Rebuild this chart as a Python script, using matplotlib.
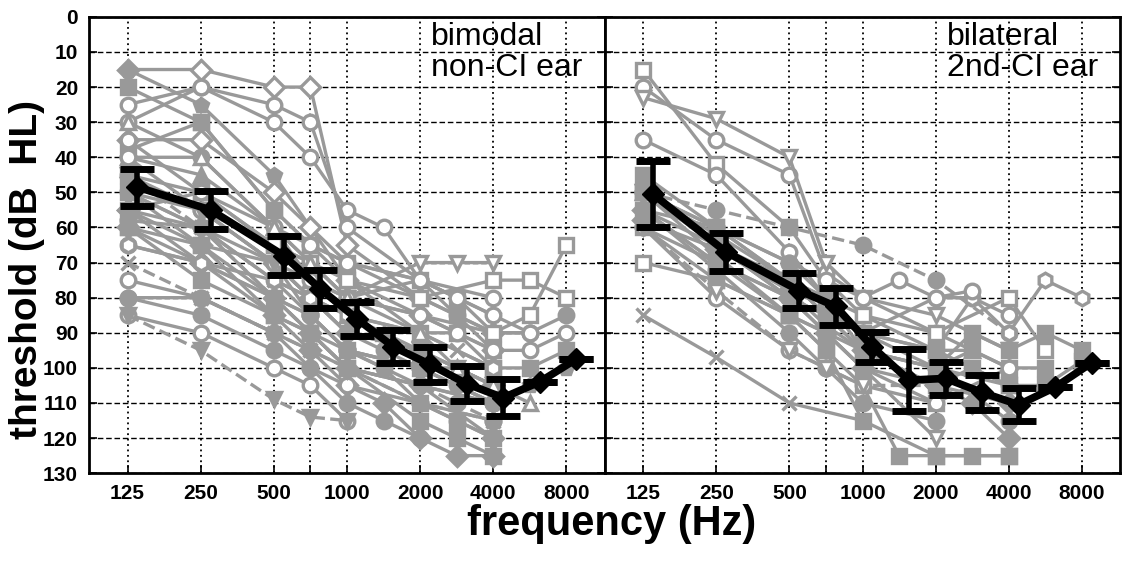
import numpy as np
import matplotlib
matplotlib.use("Agg")
import matplotlib.pyplot as plt

N = np.nan

# audiometric frequencies (Hz) and their plotting slots (audiogram-style spacing)
freqs = [125, 250, 500, 750, 1000, 1500, 2000, 3000, 4000, 6000, 8000]
slots = [0, 2, 4, 5, 6, 7, 8, 9, 10, 11, 12]
tick_freqs = [125, 250, 500, 750, 1000, 2000, 4000, 8000]
tick_labels = ["125", "250", "500", "", "1000", "2000", "4000", "8000"]

# group means (dB HL) and error bars
mean_bimodal = [48.5, 55, 68, 77.5, 86, 94, 99, 104.5, 108.5, 104, 97.5]
err_bimodal = [5.3, 5.3, 5.5, 5.4, 4.8, 4.7, 5.0, 5.0, 5.2, 0, 0]
mean_bilateral = [50.5, 67, 78, 82.5, 94, 103.5, 103, 107, 110.5, 105.5, 98.5]
err_bilateral = [9.5, 5.5, 5.0, 5.3, 4.3, 8.8, 4.8, 5.0, 4.7, 0, 0]

# individual audiograms, non-CI ear of bimodal listeners
bimodal = [
    [15, 15, 20, 20, 65, N, 80, N, 90, N, N],
    [25, 20, 30, 40, 55, 60, 75, 85, 90, 90, N],
    [20, 30, 55, 65, 70, N, 80, 85, 95, N, N],
    [30, 20, 25, 30, 60, N, 75, N, 80, N, N],
    [15, 25, 45, 60, 70, N, 75, 80, 85, N, N],
    [35, 35, 50, 60, 75, N, 85, N, 95, N, N],
    [38, 30, 55, 65, 75, N, 90, 90, 100, N, N],
    [40, 40, 60, 70, 80, N, 85, N, 90, 90, 85],
    [40, 45, 60, 75, 85, 90, 95, 100, 105, N, N],
    [45, 50, 65, 70, 75, N, 80, N, 75, 75, 80],
    [48, 55, 65, 75, 80, N, 70, 70, 70, N, N],
    [50, 55, 70, 80, 90, 95, 100, 105, 110, N, N],
    [50, 60, 75, 80, 85, N, 90, 95, 100, N, N],
    [55, 60, 75, 85, 95, N, 105, N, 110, N, N],
    [55, 65, 70, 80, 90, N, 95, N, 105, N, N],
    [55, 50, 65, 70, 80, N, 75, 80, 90, 85, 65],
    [58, 60, 70, 85, 95, 100, 110, 115, 120, N, N],
    [60, 65, 80, 90, 100, N, 115, 120, 125, N, N],
    [60, 70, 85, 95, 105, 110, 120, 125, 125, N, N],
    [65, 70, 80, 85, 95, N, 100, N, 110, N, N],
    [75, 80, 90, 100, 105, N, 110, N, 115, N, N],
    [80, 80, 90, 95, 100, N, 105, N, 110, N, N],
    [80, 85, 95, 100, 110, 115, 120, N, N, N, N],
    [85, 90, 100, 105, 115, N, N, N, N, N, N],
    [85, 95, 109, 114, 115, N, N, N, N, N, N],
    [70, 80, 90, 95, 100, N, 110, N, 115, N, N],
    [45, 60, 80, 90, 100, N, 105, 110, 115, N, N],
    [50, 65, 85, 90, 95, N, 100, N, 100, 100, 95],
    [40, 55, 70, 75, 80, N, 85, 90, 95, 95, 90],
    [35, 50, 60, 65, 70, N, 75, 80, 85, 90, N],
    [55, 70, 80, 90, 100, N, 105, N, 120, N, N],
    [60, 75, 85, 90, 100, N, 110, 115, 120, N, N],
    [45, 55, 70, 80, 90, N, 95, 100, 105, N, N],
    [50, 60, 80, 85, 95, N, 100, N, 110, 105, 100],
    [65, 70, 75, 80, 85, N, 90, N, 100, N, N],
    [30, 40, 60, 70, 80, N, 90, 100, 105, 110, N],
]

# individual audiograms, second-CI ear of bilateral listeners
bilateral = [
    [15, 42, 60, 75, 85, N, 95, N, 105, N, N],
    [20, 35, 45, 73, 80, N, 90, N, 100, N, N],
    [23, 29, 40, 70, 80, N, 85, N, 95, N, N],
    [35, 45, 67, 80, 90, N, 100, N, 105, N, N],
    [50, 55, 60, N, 65, N, 75, N, 90, N, N],
    [55, 60, 70, 75, 80, 75, 80, 80, 85, N, N],
    [70, 75, 85, 90, 100, N, 110, N, N, N, N],
    [85, 97, 110, N, 115, N, N, N, N, N, N],
    [55, 70, 80, 85, 90, N, 95, 80, 90, 75, 80],
    [60, 70, 80, 85, 90, N, 80, 78, N, N, N],
    [50, 65, 75, 80, 85, N, 90, N, 80, 95, N],
    [55, 70, 85, 95, 105, 125, 125, 125, 125, N, N],
    [50, 65, 80, 90, 100, N, 120, N, N, N, N],
    [60, 75, 85, 90, 95, N, 100, 90, 95, 90, 95],
    [50, 60, 75, 80, 90, N, 95, 95, 100, 100, N],
    [60, 80, 95, 100, 105, N, 110, N, 100, N, N],
    [50, 68, 85, 95, 115, N, 125, N, 125, N, N],
    [45, 60, 75, 85, 95, N, 105, 100, 105, 105, 98],
    [55, 65, 80, 90, 100, N, 105, N, 110, N, N],
    [50, 60, 70, 80, 95, N, 100, N, 115, N, N],
    [55, 72, 90, 100, 110, N, 115, N, N, N, N],
    [60, 78, 95, 100, 105, N, 105, N, N, N, N],
    [50, 62, 75, 85, 95, N, 100, 95, N, N, N],
    [58, 66, 78, 88, 95, N, 105, 110, 120, N, N],
]

# marker style per subject: (marker, open?, dashed?)
bimodal_style = [
    ("D", True, False), ("o", True, False), ("s", False, False), ("o", True, False),
    ("p", False, False), ("D", True, False), ("s", False, False), ("o", False, False),
    ("^", False, False), ("s", True, False), ("v", True, False), ("o", False, False),
    ("x", False, False), ("o", False, False), ("D", False, False), ("s", True, False),
    ("o", False, False), ("s", False, False), ("D", False, False), ("o", True, False),
    ("o", True, False), ("o", False, False), ("o", False, False), ("o", True, False),
    ("v", False, True), ("x", False, True), ("o", False, True), ("s", False, False),
    ("o", True, False), ("o", True, False), ("D", False, False), ("s", False, False),
    ("v", False, False), ("p", False, False), ("h", True, False), ("^", True, False),
]
bilateral_style = [
    ("s", True, False), ("o", True, False), ("v", True, False), ("o", True, False),
    ("o", False, True), ("o", True, False), ("s", True, False), ("x", False, False),
    ("h", True, False), ("o", True, False), ("s", True, False), ("s", False, False),
    ("v", True, False), ("s", False, False), ("s", False, False), ("o", True, False),
    ("s", False, False), ("s", False, False), ("D", False, False), ("o", False, False),
    ("o", False, False), ("v", True, True), ("^", False, False), ("D", False, False),
]

GRAY = "#999999"
slot_of = dict(zip(freqs, slots))
x_all = np.array(slots, dtype=float)

plt.rcParams["font.family"] = ["Liberation Sans", "DejaVu Sans"]

fig = plt.figure(figsize=(11.22, 5.62), dpi=100)
ax_l = fig.add_axes([0.0795, 0.158, 0.4595, 0.812])
ax_r = fig.add_axes([0.539, 0.158, 0.4595, 0.812])


def draw_panel(ax, subjects, styles, mean, err, label, show_ylabels):
    for vals, (mk, is_open, dashed) in zip(subjects, styles):
        y = np.array(vals, dtype=float)
        ok = ~np.isnan(y)
        face = "white" if is_open else GRAY
        ax.plot(x_all[ok], y[ok], color=GRAY, lw=2.4, ls="--" if dashed else "-",
                marker=mk, ms=10.5, mfc=face, mec=GRAY, mew=2.4, zorder=2)
    xm = x_all + 0.27
    ax.plot(xm, mean, color="black", lw=5.5, marker="D", ms=11.5, zorder=4)
    ax.errorbar(xm, mean, yerr=err, fmt="none", ecolor="black", elinewidth=4,
                capsize=12, capthick=5, zorder=4)

    ax.set_xlim(-1.05, 13.05)
    ax.set_ylim(130, 0)
    ax.set_yticks(np.arange(0, 131, 10))
    ax.set_xticks([slot_of[f] for f in tick_freqs])
    ax.set_xticklabels(tick_labels)
    ax.xaxis.grid(True, ls=(0, (1, 2)), color="black", lw=1.3)
    ax.yaxis.grid(True, ls=(0, (4, 2)), color="black", lw=1.0)
    ax.set_axisbelow(True)
    ax.tick_params(direction="in", length=6, width=1.2, left=True, right=True,
                   labelsize=15, pad=8)
    for lab in ax.get_xticklabels() + ax.get_yticklabels():
        lab.set_fontweight("bold")
    if not show_ylabels:
        ax.set_yticklabels([])
    for sp in ax.spines.values():
        sp.set_linewidth(2)
    ax.text(8.3, 1.5, label, fontsize=23, va="top", ha="left", linespacing=1.05,
            zorder=5)


draw_panel(ax_l, bimodal, bimodal_style, mean_bimodal, err_bimodal,
           "bimodal\nnon-CI ear", True)
draw_panel(ax_r, bilateral, bilateral_style, mean_bilateral, err_bilateral,
           "bilateral\n2nd-CI ear", False)

fig.text(0.024, 0.52, "threshold (dB  HL)", rotation=90, fontsize=28,
         fontweight="bold", ha="center", va="center")
fig.text(0.545, 0.068, "frequency (Hz)", fontsize=30, fontweight="bold",
         ha="center", va="center")

fig.savefig("out.png", dpi=100)
